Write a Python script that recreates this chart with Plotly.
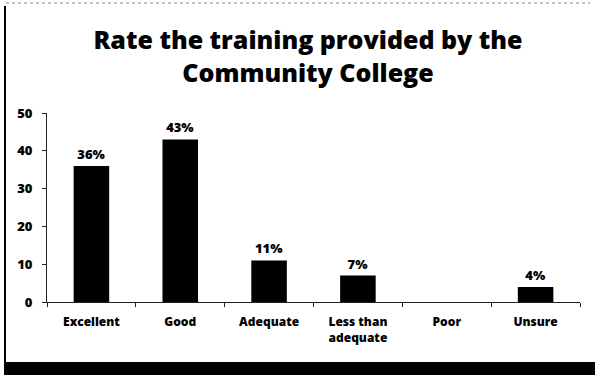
import plotly.graph_objects as go

categories = ["Excellent", "Good", "Adequate", "Less than<br>adequate", "Poor", "Unsure"]
values = [36, 43, 11, 7, 0, 4]
labels = [f"{v}%" if v > 0 else "" for v in values]
y_ticks = [0, 10, 20, 30, 40, 50]

W, H = 595, 375
L, R, T, B = 47, 15, 113, 73

def px_x(x):
    return (x - L) / (W - L - R)

def px_y(y):
    return (H - B - y) / (H - T - B)

FONT = "Open Sans"

fig = go.Figure(
    go.Bar(
        x=categories,
        y=values,
        text=labels,
        textposition="outside",
        textfont=dict(family=FONT, size=13, color="black", weight=800),
        marker=dict(color="black", line=dict(width=0)),
        cliponaxis=False,
    )
)

fig.update_layout(
    width=W,
    height=H,
    margin=dict(l=L, r=R, t=T, b=B),
    paper_bgcolor="white",
    plot_bgcolor="white",
    bargap=0.6,
    showlegend=False,
    title=dict(
        text="Rate the training provided by the<br>Community College",
        x=308 / W,
        xanchor="center",
        y=1 - 49 / H,
        yanchor="middle",
        yref="container",
        font=dict(family=FONT, size=25, color="black", weight=800),
    ),
    xaxis=dict(
        showline=True,
        linecolor="#222",
        linewidth=1,
        ticks="outside",
        tickson="boundaries",
        ticklen=4,
        tickcolor="#222",
        tickfont=dict(family=FONT, size=12, color="black", weight=800),
        showgrid=False,
        ticklabelstandoff=9,
    ),
    yaxis=dict(
        range=[0, 50],
        tickvals=y_ticks,
        showline=True,
        linecolor="#222",
        linewidth=1,
        ticks="outside",
        ticklen=4,
        tickcolor="#222",
        tickfont=dict(family=FONT, size=13, color="black", weight=800),
        showgrid=False,
        zeroline=False,
        ticklabelstandoff=7,
    ),
)

# frame: left border, dotted top edge, heavy bottom band
fig.add_shape(type="line", xref="paper", yref="paper",
              x0=px_x(5), x1=px_x(5), y0=px_y(6), y1=px_y(366),
              line=dict(color="black", width=2))
fig.add_shape(type="line", xref="paper", yref="paper",
              x0=px_x(6), x1=px_x(590), y0=px_y(3), y1=px_y(3),
              line=dict(color="#888", width=1, dash="dot"))
fig.add_shape(type="rect", xref="paper", yref="paper",
              x0=px_x(4), x1=px_x(596), y0=px_y(362), y1=px_y(376),
              fillcolor="black", line=dict(width=0))

fig.write_html("out.html")
